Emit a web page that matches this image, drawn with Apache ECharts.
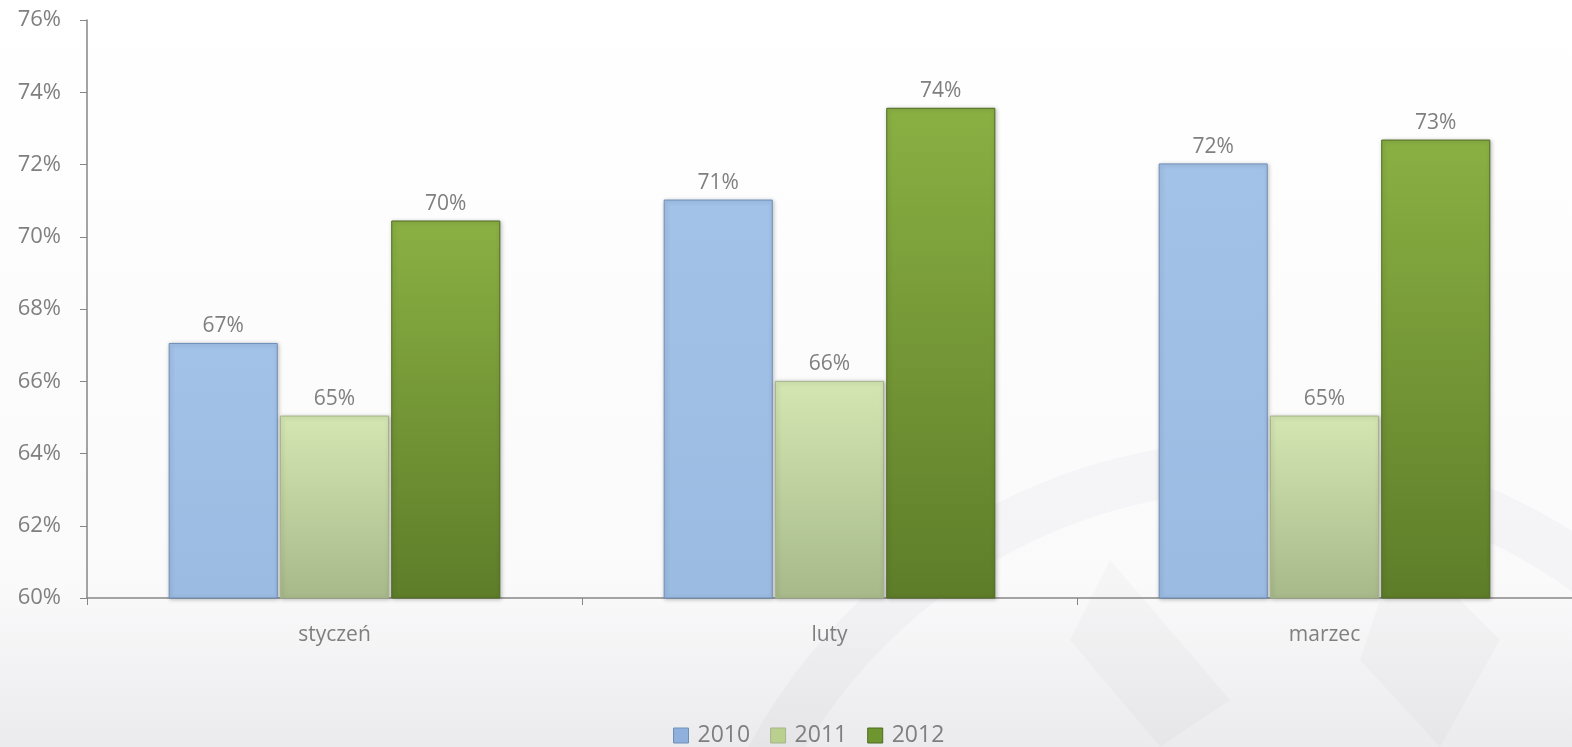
<!DOCTYPE html>
<html>
<head>
<meta charset="utf-8">
<script src="https://cdn.jsdelivr.net/npm/echarts@6/dist/echarts.min.js"></script>
<style>
  html, body { margin: 0; padding: 0; background: #fff; }
  #chart { width: 1572px; height: 747px; }
</style>
</head>
<body>
<div id="chart"></div>
<script>
// Monthly share, three years side by side
const months = ['styczeń', 'luty', 'marzec'];
const years = ['2010', '2011', '2012'];
const values2010 = [67.06, 71.03, 72.03];
const values2011 = [65.05, 66.01, 65.05];
const values2012 = [70.45, 73.57, 72.69];
const yTicks = { min: 60, max: 76, step: 2 };

const FONT = '"Open Sans", "Noto Sans", sans-serif';
const TEXT = '#7f7f7f';

function grad(top, bottom) {
  return new echarts.graphic.LinearGradient(0, 0, 0, 1, [
    { offset: 0, color: top },
    { offset: 1, color: bottom }
  ]);
}

const styles = [
  { fill: grad('#a3c2e8', '#9bbbe2'), border: '#6f8fb8', legend: '#8fb0dc' },
  { fill: grad('#d4e7b2', '#a7b98a'), border: '#a5b58b', legend: '#b9d08f' },
  { fill: grad('#8ab043', '#5e7d29'), border: '#4e6a22', legend: '#6f952f' }
];

const seriesData = [values2010, values2011, values2012];

const chart = echarts.init(document.getElementById('chart'), null, { renderer: 'canvas' });

chart.setOption({
  backgroundColor: new echarts.graphic.LinearGradient(0, 0, 0, 1, [
    { offset: 0, color: '#ffffff' },
    { offset: 0.78, color: '#fafafb' },
    { offset: 1, color: '#ebebed' }
  ]),
  animation: false,
  // faint emblem behind the plot
  graphic: [
    {
      type: 'ring',
      z: -10,
      silent: true,
      shape: { cx: 1260, cy: 1020, r: 580, r0: 530 },
      style: { fill: 'rgba(120,120,130,0.045)' }
    },
    {
      type: 'polygon',
      z: -10,
      silent: true,
      shape: { points: [[1110, 560], [1230, 700], [1160, 747], [1070, 640]] },
      style: { fill: 'rgba(120,120,130,0.04)' }
    },
    {
      type: 'polygon',
      z: -10,
      silent: true,
      shape: { points: [[1400, 540], [1500, 640], [1440, 747], [1360, 660]] },
      style: { fill: 'rgba(120,120,130,0.04)' }
    }
  ],
  grid: { left: 87, right: -5, top: 20, bottom: 149, containLabel: false },
  legend: {
    top: 719,
    left: 668,
    itemWidth: 15,
    itemHeight: 15,
    itemGap: 20,
    textStyle: { fontFamily: FONT, fontSize: 23, color: TEXT, padding: [0, 0, 0, 4] },
    data: years.map((y, i) => ({
      name: y,
      icon: 'rect',
      itemStyle: { color: styles[i].legend, borderColor: styles[i].border, borderWidth: 1 }
    }))
  },
  xAxis: {
    type: 'category',
    data: months,
    axisLine: { lineStyle: { color: '#868686', width: 1.5 } },
    axisTick: { show: true, length: 7, inside: false, lineStyle: { color: '#868686' } },
    axisLabel: { fontFamily: FONT, fontSize: 21, color: TEXT, margin: 27 }
  },
  yAxis: {
    type: 'value',
    min: yTicks.min,
    max: yTicks.max,
    interval: yTicks.step,
    splitLine: { show: false },
    axisLine: { show: true, lineStyle: { color: '#868686', width: 1.5 } },
    axisTick: { show: true, length: 7, lineStyle: { color: '#868686' } },
    axisLabel: {
      fontFamily: FONT, fontSize: 22, color: TEXT, margin: 26,
      formatter: v => v + '%'
    }
  },
  series: years.map((y, i) => ({
    name: y,
    type: 'bar',
    data: seriesData[i],
    barGap: '2%',
    barCategoryGap: '33%',
    itemStyle: {
      color: styles[i].fill,
      borderColor: styles[i].border,
      borderWidth: 1,
      shadowColor: 'rgba(0,0,0,0.25)',
      shadowBlur: 4,
      shadowOffsetX: 1,
      shadowOffsetY: 1
    },
    label: {
      show: true,
      position: 'top',
      distance: 6,
      fontFamily: FONT,
      fontSize: 21,
      color: TEXT,
      formatter: p => Math.round(p.value) + '%'
    }
  }))
});
</script>
</body>
</html>
